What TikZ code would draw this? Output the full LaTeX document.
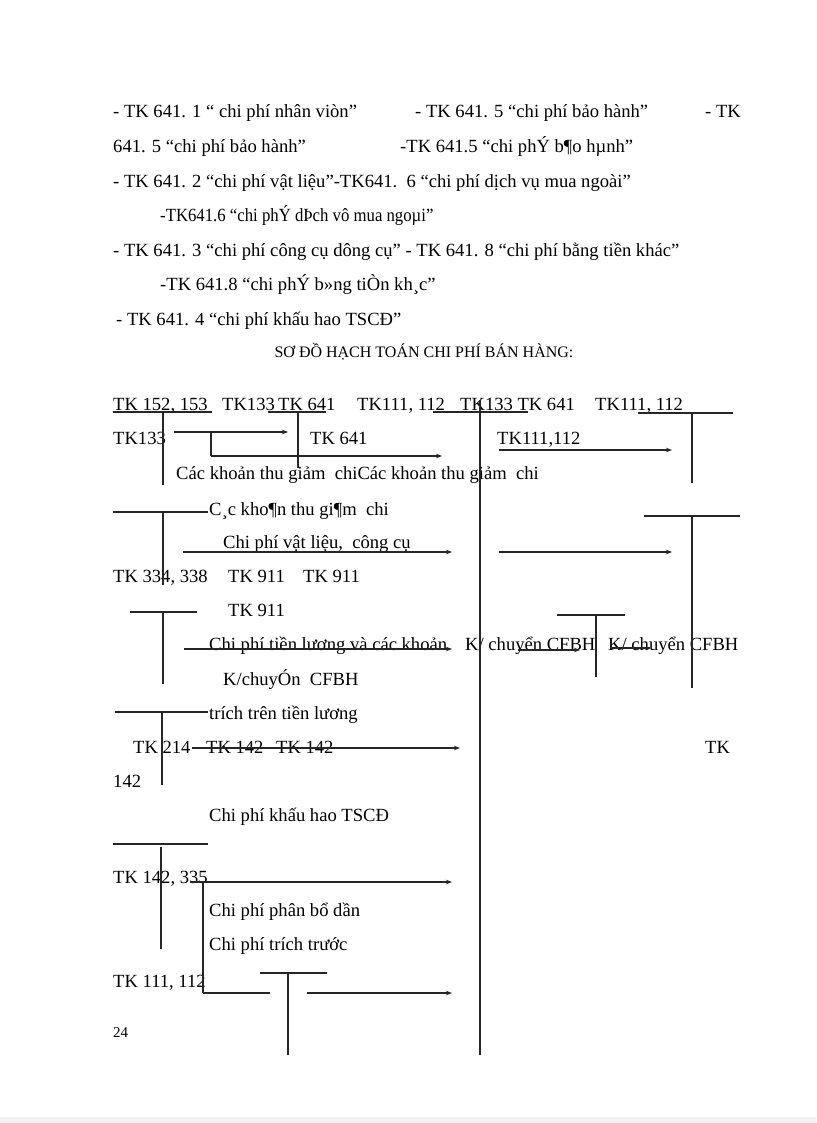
\documentclass[tikz,border=0pt]{standalone}
\usepackage{fontspec}
\setmainfont{Liberation Serif}
\usetikzlibrary{arrows.meta}
\newcommand{\bodyfs}{\fontsize{18.6}{22}\selectfont}
\newcommand{\smallfs}{\fontsize{16}{19}\selectfont}
\newcommand{\pagefs}{\fontsize{15}{18}\selectfont}
\tikzset{
  txt/.style={anchor=base west, inner sep=0pt, font=\bodyfs},
  ttl/.style={anchor=base, inner sep=0pt, font=\smallfs},
  ln/.style={line width=1.1pt, black!85},
  arr/.style={ln, -{Stealth[length=6pt,width=4.5pt]}},
}
\begin{document}
\begin{tikzpicture}[x=1pt,y=-1pt]
\useasboundingbox (0,0) rectangle (816,1123);
\fill[black!5] (0,1117) rectangle (816,1123);
% ---------- header text ----------
\node[txt] (a1) at (113,118) {- TK 641. 1 “ chi phí nhân viòn”};
\node[txt] (a2) at (415,118) {- TK 641. 5 “chi phí bảo hành”};
\node[txt] (a3) at (705,118) {- TK};
\node[txt] (b1) at (113,153) {641. 5 “chi phí bảo hành”};
\node[txt] (b2) at (400,153) {-TK 641.5 “chi phÝ b¶o hµnh”};
\node[txt] (c1) at (113,188) {- TK 641. 2 “chi phí vật liệu”-TK641.\ \ 6 “chi phí dịch vụ mua ngoài”};
\node[txt] (d1) at (160,222) {\scalebox{0.9}[1]{-TK641.6\ “chi phÝ dÞch vô mua ngoµi”}};
\node[txt] (e1) at (113,256) {- TK 641. 3 “chi phí công cụ dông cụ” - TK 641. 8 “chi phí bằng tiền\ khác”};
\node[txt] (f1) at (160,290) {-TK 641.8 “chi phÝ b»ng tiÒn kh¸c”};
\node[txt] (g1) at (116,325) {- TK 641. 4 “chi phí khấu hao TSCĐ”};
\node[ttl] (title) at (424,357) {SƠ ĐỒ HẠCH TOÁN CHI PHÍ BÁN HÀNG:};
% ---------- diagram text ----------
\node[txt] (t1) at (113,410) {TK 152, 153};
\node[txt] (t2) at (222,410) {TK133};
\node[txt] (t3) at (278,410) {TK 641};
\node[txt] (t4) at (357,410) {TK111, 112};
\node[txt] (t5) at (460,410) {TK133 TK 641};
\node[txt] (t6) at (595,410) {TK111, 112};
\node[txt] (u1) at (113,444) {TK133};
\node[txt] (u2) at (310,444) {TK 641};
\node[txt] (u3) at (497,444) {TK111,112};
\node[txt] (v1) at (176,479) {Các khoản thu giảm\ \ chiCác khoản thu giảm\ \ chi};
\node[txt] (w1) at (209,515) {C¸c kho¶n thu gi¶m\ \ chi};
\node[txt] (x1) at (223,548) {Chi phí vật liệu,\ \ công cụ};
\node[txt] (y1) at (113,582) {TK 334, 338};
\node[txt] (y2) at (228,582) {TK 911};
\node[txt] (y3) at (303,582) {TK 911};
\node[txt] (z1) at (228,616) {TK 911};
\node[txt] (k1) at (209,650) {Chi phí tiền lương và các khoản};
\node[txt] (k2) at (465,650) {K/ chuyển CFBH};
\node[txt] (k3) at (608,650) {K/ chuyển CFBH};
\node[txt] (k4) at (223,685) {K/chuyÓn\ \ CFBH};
\node[txt] (k5) at (209,719) {trích trên tiền lương};
\node[txt] (m1) at (133,753) {TK 214};
\node[txt] (m2) at (206,753) {TK 142};
\node[txt] (m3) at (276,753) {TK 142};
\node[txt] (m4) at (705,753) {TK};
\node[txt] (n1) at (113,787) {142};
\node[txt] (n2) at (209,821) {Chi phí khấu hao TSCĐ};
\node[txt] (p1) at (113,883) {TK 142, 335};
\node[txt] (p2) at (209,916) {Chi phí phân bổ dần};
\node[txt] (p3) at (209,950) {Chi phí trích trước};
\node[txt] (p4) at (113,987) {TK 111, 112};
\node[anchor=base west, inner sep=0pt, font=\pagefs] (pg) at (113,1037) {24};
% ---------- T-account lines ----------
\draw[ln] (113,412) -- (212,412);
\draw[ln] (163,412) -- (163,485);
\draw[ln] (268,412) -- (326,412);
\draw[ln] (298,412) -- (298,468);
\draw[ln] (433,412) -- (528,412);
\draw[ln] (480,400) -- (480,1055);
\draw[ln] (638,413) -- (733,413);
\draw[ln] (692,413) -- (692,483);
\draw[arr] (174,432) -- (288,432);
\draw[ln] (211,433) -- (211,456);
\draw[arr] (211,456) -- (442,456);
\draw[arr] (499,450) -- (672,450);
\draw[ln] (113,512) -- (208,512);
\draw[ln] (163,513) -- (163,585);
\draw[ln] (644,516) -- (740,516);
\draw[ln] (692,516) -- (692,688);
\draw[arr] (183,552) -- (452,552);
\draw[arr] (499,552) -- (672,552);
\draw[ln] (130,612) -- (197,612);
\draw[ln] (163,612) -- (163,684);
\draw[ln] (557,615) -- (625,615);
\draw[ln] (596,615) -- (596,677);
\draw[arr] (184,649) -- (452,649);
\draw[arr] (518,650) -- (580,650);
\draw[ln] (610,648) -- (650,648);
\draw[ln] (115,712) -- (208,712);
\draw[ln] (162,712) -- (162,785);
\draw[arr] (192,748) -- (460,748);
\draw[ln] (113,844) -- (208,844);
\draw[ln] (161,847) -- (161,949);
\draw[arr] (190,882) -- (452,882);
\draw[ln] (203,882) -- (203,993);
\draw[ln] (260,973) -- (327,973);
\draw[ln] (288,973) -- (288,1055);
\draw[ln] (203,993) -- (270,993);
\draw[arr] (307,993) -- (452,993);
\end{tikzpicture}
\end{document}
